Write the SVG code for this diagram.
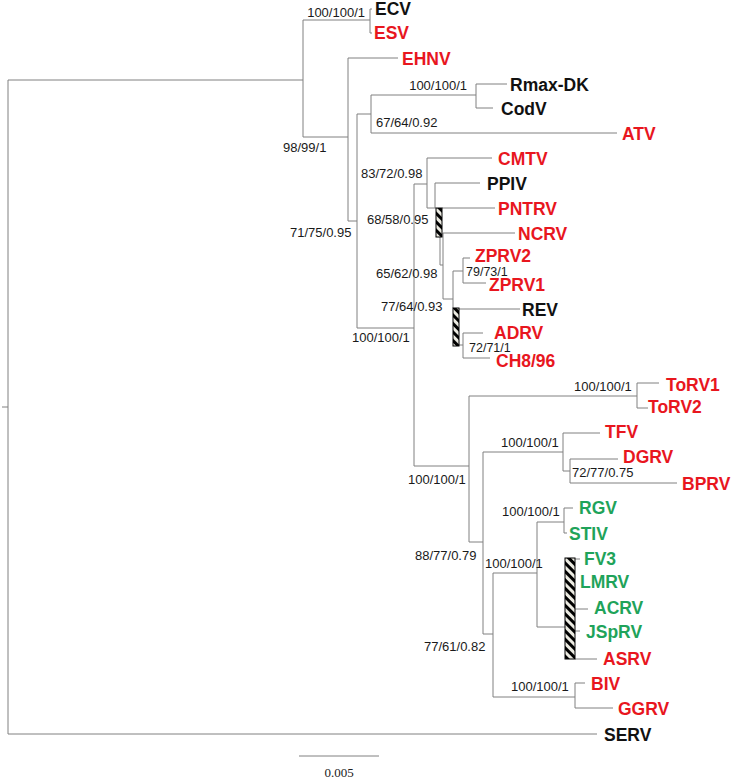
<svg xmlns="http://www.w3.org/2000/svg" width="733" height="780" viewBox="0 0 733 780">
<style>
.br{fill:none;stroke:#808080;stroke-width:1}
.sv{font-family:"Liberation Sans",Arial,sans-serif;font-size:13px;fill:#1a1a1a}
.sm{font-size:12.5px}
.tx{font-family:"Liberation Sans",Arial,sans-serif;font-size:17.5px;font-weight:bold}
.k{fill:#111}
.r{fill:#e8161e}
.g{fill:#1fa35a}
.bx{fill:url(#hatch);stroke:#000;stroke-width:1}
.sc{font-family:"Liberation Serif","DejaVu Serif",serif;font-size:13px;fill:#222}
</style>
<defs>
<pattern id="hatch" width="6" height="6" patternUnits="userSpaceOnUse" patternTransform="rotate(-45)">
<rect width="6" height="6" fill="#ecebe2"/>
<rect width="3" height="6" fill="#000"/>
</pattern>
</defs>
<rect width="733" height="780" fill="#fff"/>
<g id="connectors" class="br">
<path d="M2,407H8M8,80V734M8,80H303M8,734H597"/>
<path d="M303,20V137M303,20H370M303,137H348"/>
<path d="M370,9V33M370,9H372M370,33H372"/>
<path d="M348,58V221M348,58H398M348,221H357"/>
<path d="M357,114V328M357,114H371M357,328H414"/>
<path d="M371,95V133M371,95H476M371,133H617"/>
<path d="M476,84V108M476,84H507M476,108H493"/>
<path d="M414,184V466M414,184H427M414,466H469"/>
<path d="M427,158V208M427,158H492M427,208H436"/>
<path d="M435,208V183H480M442,208H495"/>
<path d="M440,237V265H443M443,233V299H453M443,233H515"/>
<path d="M453,271V308M453,271H463M463,258V283M463,258H470M463,283H486"/>
<path d="M459,309H520M459,345H463M463,333V358M463,333H483M463,358H490"/>
<path d="M469,396V542M469,396H637M637,383V408M637,383H659M637,408H648"/>
<path d="M469,542H483M483,452V634M483,452H563M563,433V471M563,433H600M563,471H570M570,459V483M570,459H618M570,483H677"/>
<path d="M483,634H493M493,573V697M493,573H537M537,522V627M537,522H564M564,508V533M564,508H573M564,533H567"/>
<path d="M537,627H565M575,559H580M575,609H588M575,631H580M575,659H597"/>
<path d="M493,697H575M575,683V708M575,683H585M575,708H613"/>
<path d="M299,756H379"/>
</g>
<g id="box1"><rect class="bx" x="436" y="208" width="6" height="29"/></g>
<g id="box2"><rect class="bx" x="453" y="308" width="6" height="38"/></g>
<g id="box3"><rect class="bx" x="565" y="558" width="10" height="101"/></g>
<g id="supports" class="sv">
<text x="365" y="17" text-anchor="end">100/100/1</text>
<text x="283" y="152">98/99/1</text>
<text x="467" y="90" text-anchor="end">100/100/1</text>
<text x="376" y="127">67/64/0.92</text>
<text x="361" y="178">83/72/0.98</text>
<text x="290" y="237">71/75/0.95</text>
<text x="367" y="224">68/58/0.95</text>
<text x="376" y="278">65/62/0.98</text>
<text class="sm" x="466" y="276">79/73/1</text>
<text x="381" y="311">77/64/0.93</text>
<text x="352" y="342">100/100/1</text>
<text class="sm" x="469" y="352">72/71/1</text>
<text x="574" y="391">100/100/1</text>
<text x="501" y="447">100/100/1</text>
<text x="572" y="477">72/77/0.75</text>
<text x="408" y="484">100/100/1</text>
<text x="502" y="516">100/100/1</text>
<text x="415" y="560">88/77/0.79</text>
<text x="485" y="568">100/100/1</text>
<text x="424" y="651">77/61/0.82</text>
<text x="511" y="691">100/100/1</text>
</g>
<g id="n-ECV"><text class="tx k" x="375" y="15">ECV</text></g>
<g id="n-ESV"><text class="tx r" x="374" y="39">ESV</text></g>
<g id="n-EHNV"><text class="tx r" x="402" y="65">EHNV</text></g>
<g id="n-Rmax-DK"><text class="tx k" x="510" y="91">Rmax-DK</text></g>
<g id="n-CodV"><text class="tx k" x="501" y="115">CodV</text></g>
<g id="n-ATV"><text class="tx r" x="622" y="140">ATV</text></g>
<g id="n-CMTV"><text class="tx r" x="498" y="165">CMTV</text></g>
<g id="n-PPIV"><text class="tx k" x="487" y="190">PPIV</text></g>
<g id="n-PNTRV"><text class="tx r" x="498" y="215">PNTRV</text></g>
<g id="n-NCRV"><text class="tx r" x="518" y="240">NCRV</text></g>
<g id="n-ZPRV2"><text class="tx r" x="475" y="262">ZPRV2</text></g>
<g id="n-ZPRV1"><text class="tx r" x="489" y="291">ZPRV1</text></g>
<g id="n-REV"><text class="tx k" x="522" y="316">REV</text></g>
<g id="n-ADRV"><text class="tx r" x="494" y="339">ADRV</text></g>
<g id="n-CH8-96"><text class="tx r" x="496" y="367">CH8/96</text></g>
<g id="n-ToRV1"><text class="tx r" x="666" y="391">ToRV1</text></g>
<g id="n-ToRV2"><text class="tx r" x="648" y="413">ToRV2</text></g>
<g id="n-TFV"><text class="tx r" x="605" y="438">TFV</text></g>
<g id="n-DGRV"><text class="tx r" x="623" y="463">DGRV</text></g>
<g id="n-BPRV"><text class="tx r" x="682" y="490">BPRV</text></g>
<g id="n-RGV"><text class="tx g" x="579" y="514">RGV</text></g>
<g id="n-STIV"><text class="tx g" x="569" y="540">STIV</text></g>
<g id="n-FV3"><text class="tx g" x="584" y="565">FV3</text></g>
<g id="n-LMRV"><text class="tx g" x="580" y="588">LMRV</text></g>
<g id="n-ACRV"><text class="tx g" x="594" y="614">ACRV</text></g>
<g id="n-JSpRV"><text class="tx g" x="586" y="638">JSpRV</text></g>
<g id="n-ASRV"><text class="tx r" x="603" y="665">ASRV</text></g>
<g id="n-BIV"><text class="tx r" x="591" y="690">BIV</text></g>
<g id="n-GGRV"><text class="tx r" x="618" y="715">GGRV</text></g>
<g id="n-SERV"><text class="tx k" x="604" y="741">SERV</text></g>
<g id="scale"><text class="sc" x="339" y="777" text-anchor="middle">0.005</text></g>
</svg>
